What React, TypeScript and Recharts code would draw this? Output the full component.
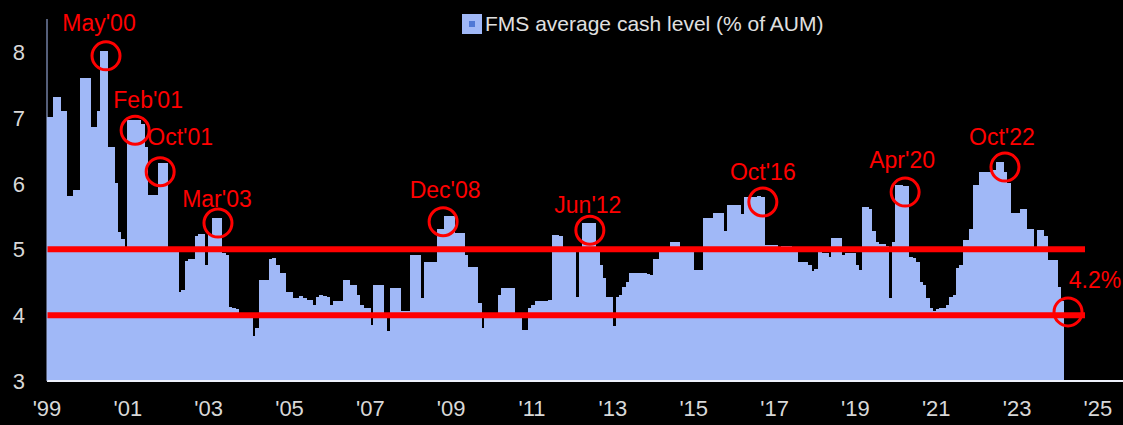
import React from 'react'
import { BarChart, Bar, XAxis, YAxis, ReferenceLine, ReferenceDot, Legend } from 'recharts'

// FMS average cash level, monthly, starting Jan 1999
const firstYear = 1999
const cashLevel = [
  7.0, 7.0, 7.3, 7.3, 7.1, 7.1, 5.8, 5.8, 5.9, 5.9, 7.6, 7.6, // 1999
  7.6, 6.85, 6.85, 7.1, 8.0, 8.0, 6.55, 6.55, 6.0, 5.25, 5.15, 5.0, // 2000
  6.95, 6.95, 6.95, 6.95, 6.9, 6.55, 5.82, 5.82, 5.82, 6.3, 6.3, 6.3, // 2001
  5.0, 5.0, 5.0, 4.35, 4.38, 4.82, 4.85, 4.85, 5.2, 5.22, 5.22, 4.75, // 2002
  5.22, 5.47, 5.47, 5.47, 4.94, 4.9, 4.12, 4.1, 4.08, 4.0, 4.0, 4.0, // 2003
  4.0, 3.67, 3.8, 4.53, 4.53, 4.53, 4.85, 4.86, 4.75, 4.63, 4.63, 4.35, // 2004
  4.35, 4.25, 4.25, 4.28, 4.25, 4.22, 4.22, 4.15, 4.27, 4.3, 4.28, 4.27, // 2005
  4.15, 4.2, 4.2, 4.2, 4.53, 4.53, 4.45, 4.45, 4.3, 4.15, 4.1, 4.1, // 2006
  3.85, 4.45, 4.45, 4.45, 4.0, 3.75, 4.4, 4.4, 4.4, 4.05, 4.05, 4.05, // 2007
  4.9, 4.9, 4.9, 4.25, 4.8, 4.8, 4.8, 4.8, 5.3, 5.3, 5.5, 5.5, // 2008
  5.5, 5.24, 5.24, 5.24, 4.9, 4.72, 4.72, 4.72, 4.18, 3.8, 4.03, 4.03, // 2009
  4.03, 4.03, 4.3, 4.4, 4.4, 4.4, 4.4, 4.03, 4.03, 3.77, 3.77, 4.1, // 2010
  4.15, 4.2, 4.2, 4.2, 4.2, 4.22, 5.21, 5.21, 5.2, 5.0, 5.0, 4.95, // 2011
  4.95, 4.27, 4.95, 5.39, 5.39, 5.39, 5.39, 4.95, 4.75, 4.56, 4.27, 4.27, // 2012
  3.83, 4.27, 4.3, 4.42, 4.5, 4.64, 4.64, 4.64, 4.64, 4.64, 4.62, 4.6, // 2013
  4.85, 4.85, 4.95, 4.95, 4.95, 5.1, 5.1, 5.1, 4.95, 4.95, 4.95, 4.95, // 2014
  4.68, 4.68, 4.68, 5.47, 5.47, 5.47, 5.55, 5.55, 5.55, 5.27, 5.67, 5.67, // 2015
  5.67, 5.67, 5.53, 5.79, 5.79, 5.79, 5.79, 5.8, 5.79, 5.06, 5.06, 5.06, // 2016
  5.06, 4.97, 5.05, 5.05, 5.05, 5.02, 5.02, 4.8, 4.8, 4.8, 4.75, 4.66, // 2017
  4.7, 4.95, 4.94, 4.94, 4.88, 5.17, 5.17, 5.17, 4.9, 4.94, 4.94, 4.94, // 2018
  4.75, 4.68, 5.64, 5.64, 5.6, 5.27, 5.1, 5.08, 5.08, 5.05, 4.26, 5.1, // 2019
  5.97, 5.97, 5.95, 5.95, 4.88, 4.86, 4.8, 4.5, 4.45, 4.25, 4.1, 4.05, // 2020
  4.08, 4.1, 4.1, 4.15, 4.27, 4.3, 4.71, 4.75, 5.14, 5.14, 5.3, 5.97, // 2021
  5.97, 6.17, 6.17, 6.17, 6.17, 6.2, 6.32, 6.32, 6.17, 6.0, 5.55, 5.55, // 2022
  5.55, 5.6, 5.6, 5.3, 5.3, 5.0, 5.29, 5.29, 5.2, 4.83, 4.83, 4.83, // 2023
  4.42, 4.2, // 2024
]

const yTicks = [3, 4, 5, 6, 7, 8]
const xTickYears = [1999, 2001, 2003, 2005, 2007, 2009, 2011, 2013, 2015, 2017, 2019, 2021, 2023, 2025]
const xTickLabels = ["'99", "'01", "'03", "'05", "'07", "'09", "'11", "'13", "'15", "'17", "'19", "'21", "'23", "'25"]

// red 4% / 5% bands
const bandLevels = [5, 4]
const bandEndYear = 2024.68

// circled peaks
const calloutText = ["May'00", "Feb'01", "Oct'01", "Mar'03", "Dec'08", "Jun'12", "Oct'16", "Apr'20", "Oct'22", '4.2%']
const calloutYear = [2000.46, 2001.18, 2001.8, 2003.23, 2008.8, 2012.43, 2016.71, 2020.23, 2022.7, 2024.26]
const calloutValue = [7.94, 6.81, 6.18, 5.4, 5.42, 5.29, 5.72, 5.87, 6.25, 4.05]
// label placement relative to circle (layout only)
const calloutNudge = [[-7, -33], [13, -30], [20, -35], [-1, -24], [2, -32], [-2, -25], [0, -30], [-3, -32], [-3, -30], [27, -32]]

const data = cashLevel.map((v, i) => ({ t: firstYear + (i + 0.5) / 12, cash: v }))

const font = "'Liberation Sans', Arial, sans-serif"
const barColor = '#a0b8f7'
const red = '#ff0000'
const textColor = '#d8d8d8'

const YTick = ({ x, y, payload }: any) => (
  <text x={x - 14} y={y} dy={8} textAnchor="end" fill={textColor} fontSize={22} fontFamily={font}>
    {payload.value}
  </text>
)

const XTick = ({ x, y, payload }: any) => {
  const idx = xTickYears.indexOf(payload.value)
  return (
    <text x={x} y={y} dy={27} textAnchor="middle" fill={textColor} fontSize={22} fontFamily={font}>
      {idx >= 0 ? xTickLabels[idx] : ''}
    </text>
  )
}

const LegendContent = () => (
  <div style={{ display: 'flex', alignItems: 'center', fontFamily: font, fontSize: 21, color: '#e0e0e0', whiteSpace: 'nowrap' }}>
    <span style={{ width: 20, height: 20, background: barColor, display: 'inline-flex', alignItems: 'center', justifyContent: 'center', marginRight: 3 }}>
      <span style={{ width: 6, height: 6, background: '#4f78d6' }} />
    </span>
    FMS average cash level (% of AUM)
  </div>
)

const callout = (i: number) => (props: any) => {
  const { cx, cy } = props
  return (
    <g>
      <circle cx={cx} cy={cy} r={14} fill="none" stroke={red} strokeWidth={3} />
      <text
        x={cx + calloutNudge[i][0]}
        y={cy + calloutNudge[i][1]}
        textAnchor="middle"
        dominantBaseline="central"
        fill={red}
        fontSize={23}
        fontFamily={font}
      >
        {calloutText[i]}
      </text>
    </g>
  )
}

export default function App() {
  return (
    <div style={{ position: 'absolute', left: 0, top: 0, width: 1123, height: 425, background: '#000' }}>
      <BarChart width={1123} height={425} data={data} margin={{ top: 19, right: 0, bottom: 0, left: 0 }} barCategoryGap={0} barGap={0}>
        <XAxis
          dataKey="t"
          type="number"
          domain={[1999, 2025.62]}
          allowDataOverflow
          ticks={xTickYears}
          interval={0}
          height={44}
          tickLine={false}
          axisLine={{ stroke: '#eef1fb', strokeWidth: 2 }}
          tick={<XTick />}
        />
        <YAxis
          type="number"
          domain={[3, 8.5]}
          ticks={yTicks}
          allowDataOverflow
          width={47}
          tickLine={false}
          axisLine={{ stroke: '#a9bdf2', strokeWidth: 1 }}
          tick={<YTick />}
        />
        <Legend
          layout="vertical"
          align="center"
          verticalAlign="middle"
          wrapperStyle={{ top: 12, left: 462, width: 'auto', height: 'auto' }}
          content={<LegendContent />}
        />
        <Bar
          dataKey="cash"
          fill={barColor}
          stroke={barColor}
          strokeWidth={1.1}
          shapeRendering="crispEdges"
          isAnimationActive={false}
        />
        {bandLevels.map((lvl) => (
          <ReferenceLine
            key={lvl}
            segment={[{ x: 1999, y: lvl }, { x: bandEndYear, y: lvl }]}
            stroke={red}
            strokeWidth={6}
          />
        ))}
        {calloutText.map((t, i) => (
          <ReferenceDot key={t} x={calloutYear[i]} y={calloutValue[i]} r={14} shape={callout(i)} />
        ))}
      </BarChart>
    </div>
  )
}
